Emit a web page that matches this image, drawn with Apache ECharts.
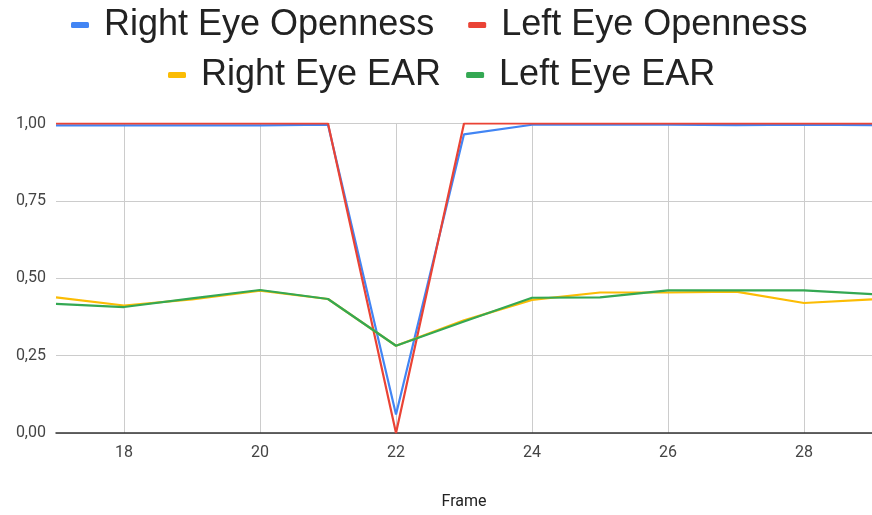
<!DOCTYPE html>
<html>
<head>
<meta charset="utf-8">
<script src="https://cdn.jsdelivr.net/npm/echarts@6/dist/echarts.min.js"></script>
<style>
html,body{margin:0;padding:0;background:#fff;}
#chart{width:872px;height:515px;}
</style>
</head>
<body>
<div id="chart"></div>
<script>
const frames = ['17','18','19','20','21','22','23','24','25','26','27','28','29'];
const rightEyeOpenness = [0.994,0.994,0.994,0.994,0.996,0.06,0.965,0.996,0.996,0.996,0.995,0.996,0.995];
const leftEyeOpenness  = [1.0,1.0,1.0,1.0,1.0,0.0,1.0,1.0,1.0,1.0,1.0,1.0,1.0];
const rightEyeEAR = [0.438,0.412,0.432,0.460,0.433,0.282,0.364,0.430,0.454,0.454,0.457,0.420,0.432];
const leftEyeEAR  = [0.417,0.407,0.435,0.462,0.433,0.282,0.360,0.437,0.438,0.461,0.461,0.461,0.449];
const yTicks = [0, 0.25, 0.5, 0.75, 1.0];

const colors = ['#4285F4','#EA4335','#FBBC04','#34A853'];
const names = ['Right Eye Openness','Left Eye Openness','Right Eye EAR','Left Eye EAR'];
const seriesData = [rightEyeOpenness, leftEyeOpenness, rightEyeEAR, leftEyeEAR];

const evenIdx = (i, v) => Number(v) % 2 === 0;

const legendBase = {
  icon: 'roundRect',
  itemWidth: 18,
  itemHeight: 6,
  itemGap: 34,
  textStyle: {fontFamily: '"Liberation Sans", Arial, sans-serif', fontSize: 36, color: '#222', padding: [0,0,0,10]}
};

const chart = echarts.init(document.getElementById('chart'), null, {renderer: 'canvas'});
chart.setOption({
  animation: false,
  color: colors,
  legend: [
    Object.assign({}, legendBase, {left: 66, top: 2, data: [names[0], names[1]]}),
    Object.assign({}, legendBase, {left: 163, top: 52, itemGap: 25, data: [names[2], names[3]]})
  ],
  grid: {left: 56, top: 123.5, width: 822, bottom: 81.5, containLabel: false},
  xAxis: {
    type: 'category',
    data: frames,
    boundaryGap: false,
    name: 'Frame',
    nameLocation: 'middle',
    nameGap: 61,
    nameTextStyle: {fontFamily: 'Roboto, sans-serif', fontSize: 16, color: '#222'},
    axisLine: {show: true, lineStyle: {color: '#333', width: 1.5}},
    axisTick: {show: false},
    axisLabel: {interval: evenIdx, fontFamily: 'Roboto, sans-serif', fontSize: 16, color: '#444', margin: 12},
    splitLine: {show: true, interval: evenIdx, lineStyle: {color: '#cccccc', width: 1}}
  },
  yAxis: {
    type: 'value',
    min: yTicks[0],
    max: yTicks[yTicks.length-1],
    interval: 0.25,
    axisLine: {show: false},
    axisTick: {show: false},
    axisLabel: {fontFamily: 'Roboto, sans-serif', fontSize: 16, color: '#444', margin: 10,
      formatter: v => v.toFixed(2).replace('.', ',')},
    splitLine: {show: true, lineStyle: {color: '#cccccc', width: 1}}
  },
  series: names.map((n, i) => ({
    name: n,
    type: 'line',
    data: seriesData[i],
    symbol: 'none',
    showSymbol: false,
    lineStyle: {width: 2.2, color: colors[i]},
    itemStyle: {color: colors[i]},
    z: 2 + i
  }))
});
</script>
</body>
</html>
